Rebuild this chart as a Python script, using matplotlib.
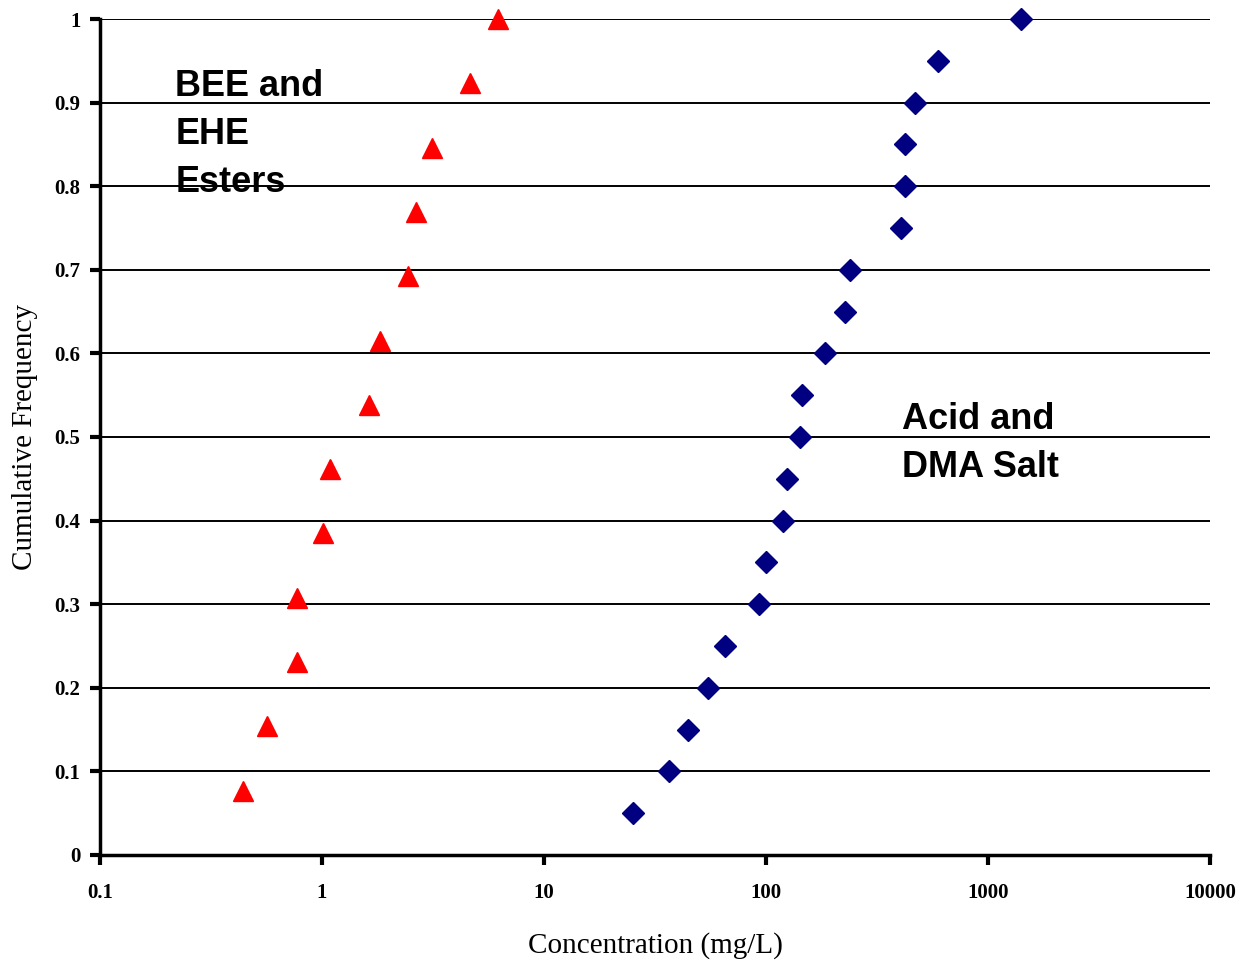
import matplotlib
matplotlib.use("Agg")
import matplotlib.pyplot as plt
from matplotlib.ticker import FixedLocator, FixedFormatter, NullLocator

# Data
ester_conc = [0.44, 0.565, 0.77, 0.77, 1.01, 1.09, 1.63, 1.82, 2.44, 2.65, 3.13, 4.64, 6.21]
ester_freq = [1/13, 2/13, 3/13, 4/13, 5/13, 6/13, 7/13, 8/13, 9/13, 10/13, 11/13, 12/13, 13/13]
acid_conc = [25.2, 36.6, 44.5, 54.8, 65.4, 93, 100, 119, 124, 142, 145, 184, 227, 239,
             406, 423, 423, 469, 595, 1409]
acid_freq = [0.05, 0.10, 0.15, 0.20, 0.25, 0.30, 0.35, 0.40, 0.45, 0.50, 0.55, 0.60,
             0.65, 0.70, 0.75, 0.80, 0.85, 0.90, 0.95, 1.00]
x_ticks = [0.1, 1, 10, 100, 1000, 10000]
x_tick_labels = ["0.1", "1", "10", "100", "1000", "10000"]
y_ticks = [0, 0.1, 0.2, 0.3, 0.4, 0.5, 0.6, 0.7, 0.8, 0.9, 1]
y_tick_labels = ["0", "0.1", "0.2", "0.3", "0.4", "0.5", "0.6", "0.7", "0.8", "0.9", "1"]

W, H = 1243, 961
fig = plt.figure(figsize=(W / 100, H / 100), dpi=100)
ax = fig.add_axes([100 / W, (H - 855) / H, (1210 - 100) / W, (855 - 19) / H])

ax.set_xscale("log")
ax.set_xlim(0.1, 10000)
ax.set_ylim(0, 1)

for y in y_ticks[1:]:
    ax.axhline(y, color="black", lw=1.4, zorder=1)

ax.plot(ester_conc, ester_freq, linestyle="none", marker="^", ms=15,
        color="#FF0000", markeredgecolor="#FF0000", zorder=3, clip_on=False)
ax.plot(acid_conc, acid_freq, linestyle="none", marker="D", ms=11,
        color="#000080", markeredgecolor="#000080", zorder=3, clip_on=False)

ax.xaxis.set_major_locator(FixedLocator(x_ticks))
ax.xaxis.set_major_formatter(FixedFormatter(x_tick_labels))
ax.xaxis.set_minor_locator(NullLocator())
ax.yaxis.set_major_locator(FixedLocator(y_ticks))
ax.yaxis.set_major_formatter(FixedFormatter(y_tick_labels))

for s in ["top", "right"]:
    ax.spines[s].set_visible(False)
for s in ["left", "bottom"]:
    ax.spines[s].set_linewidth(2.5)
    ax.spines[s].set_color("black")

ax.tick_params(axis="both", direction="out", length=7, width=3, color="black")
ax.tick_params(axis="x", pad=13)
ax.tick_params(axis="y", pad=7)
for lab in ax.get_xticklabels() + ax.get_yticklabels():
    lab.set_fontfamily("Liberation Serif")
    lab.set_fontweight("bold")
    lab.set_fontsize(15)

ax.set_xlabel("Concentration (mg/L)", fontfamily="Liberation Serif", fontsize=21, va="center")
ax.set_ylabel("Cumulative Frequency", fontfamily="Liberation Serif", fontsize=21, va="center")
ax.xaxis.set_label_coords(0.5, -0.108)
ax.yaxis.set_label_coords(-0.068, 0.5)

ax.text(0.218, 0.94, "BEE and\nEHE\nEsters", fontfamily="Liberation Sans", fontweight="bold",
        fontsize=26, va="top", ha="left", linespacing=1.48, zorder=4)
ax.text(410, 0.542, "Acid and\nDMA Salt", fontfamily="Liberation Sans", fontweight="bold",
        fontsize=26, va="top", ha="left", linespacing=1.48, zorder=4)

fig.savefig("out.png", dpi=100, facecolor="white")
